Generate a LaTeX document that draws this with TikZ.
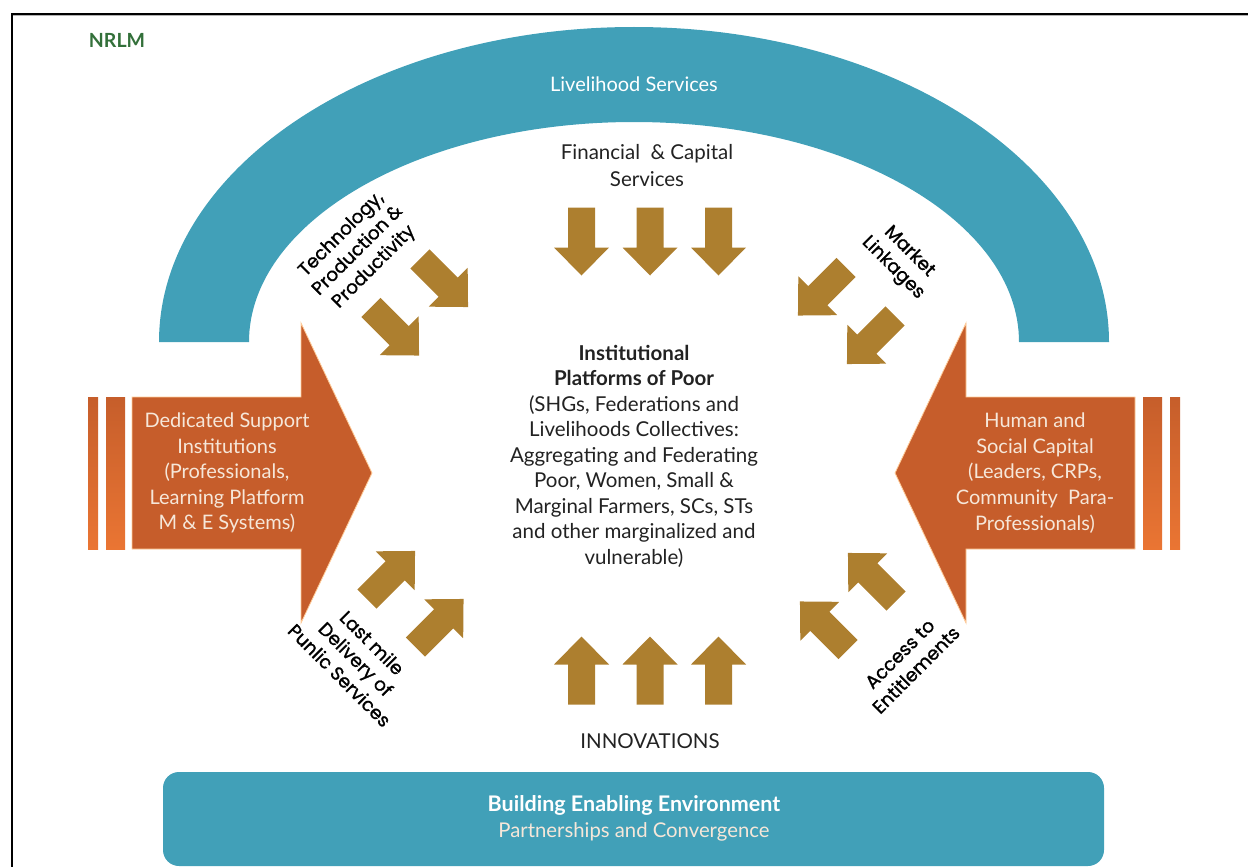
\documentclass[tikz,border=0pt]{standalone}
\usepackage{fontspec}
\setmainfont{Lato}
\newfontfamily\labfont{Poppins}[FakeBold=1.2]
\definecolor{teal}{HTML}{41A0B8}
\definecolor{orng}{HTML}{C65D2B}
\definecolor{gold}{HTML}{AD7F2F}
\definecolor{stripetop}{HTML}{C65E2B}
\definecolor{stripebot}{HTML}{EA7533}
\definecolor{cream}{HTML}{F6E7D9}
\definecolor{nrlmgreen}{HTML}{33703A}
\definecolor{txt}{HTML}{222222}
\tikzset{
  garrow/.pic={\fill[gold] (-34,-13.5) -- (6,-13.5) -- (6,-27.5) -- (34,0) -- (6,27.5) -- (6,13.5) -- (-34,13.5) -- cycle;},
  stripe/.style={top color=stripetop, bottom color=stripebot, draw=none},
  bigarrow/.style={fill=orng, draw=orange!40!white, line width=0.8pt},
  ortext/.style={text=cream, align=center, font=\fontsize{20}{25.6}\selectfont},
  lab/.style={text=black, align=center, font=\labfont\fontsize{18.5}{23}\selectfont},
  plain/.style={text=txt, align=center, font=\fontsize{20.5}{26}\selectfont},
}
\begin{document}
\begin{tikzpicture}[x=1pt,y=-1pt]
\useasboundingbox (0,0) rectangle (1248,867);
% frame
\draw[gray!60, line width=1pt] (13,15.8) -- (1248,15.8);
\draw[black, line width=1.5pt] (12,867) -- (12,14) -- (1248,14);
% arch
\fill[teal] (159,342) arc[start angle=180, end angle=360, x radius=475, y radius=315]
  -- (1019,342) arc[start angle=0, end angle=-180, x radius=385, y radius=220] -- cycle;
\node[text=white, font=\fontsize{20}{22}\selectfont] (live) at (634,84) {Livelihood Services};
% bottom box
\fill[teal, rounded corners=16pt] (163,772) rectangle (1104,866);
\node[text=white, font=\bfseries\fontsize{21.5}{24}\selectfont] (bee) at (634,805) {Building Enabling Environment};
\node[text=cream, font=\fontsize{20.3}{22}\selectfont] (pc) at (634,832) {Partnerships and Convergence};
% left orange arrow
\fill[stripe] (88,397) rectangle (98,549);
\fill[stripe] (106,397) rectangle (125,549);
\path[bigarrow] (132,397) -- (301,397) -- (301,323) -- (372,473) -- (301,623) -- (301,549) -- (132,549) -- cycle;
\node[ortext] (dsi) at (227,473) {Dedicated Support\\Institutions\\(Professionals,\\Learning Platform\\M \& E Systems)};
% right orange arrow
\fill[stripe] (1143,397) rectangle (1162,549);
\fill[stripe] (1170,397) rectangle (1180,549);
\path[bigarrow] (1135,397) -- (966,397) -- (966,323) -- (895,473) -- (966,623) -- (966,549) -- (1135,549) -- cycle;
\node[ortext] (hsc) at (1035,473) {Human and\\Social Capital\\(Leaders, CRPs,\\Community~ Para-\\Professionals)};
% gold arrows
\pic[rotate=-90] at (581.5,241.5) {garrow};
\pic[rotate=-90] at (650,241.5) {garrow};
\pic[rotate=-90] at (718.5,241.5) {garrow};
\pic[rotate=90] at (581.5,670.5) {garrow};
\pic[rotate=90] at (650,670.5) {garrow};
\pic[rotate=90] at (718.5,670.5) {garrow};
\pic[rotate=-45] at (444,283) {garrow};
\pic[rotate=-45] at (395,331.5) {garrow};
\pic[rotate=-135] at (822,291.5) {garrow};
\pic[rotate=-135] at (871,340) {garrow};
\pic[rotate=45] at (391,575) {garrow};
\pic[rotate=45] at (439.5,623) {garrow};
\pic[rotate=135] at (872,577) {garrow};
\pic[rotate=135] at (824,625.5) {garrow};
% texts
\node[text=nrlmgreen, font=\bfseries\fontsize{19.5}{22}\selectfont] (nrlm) at (117,40) {NRLM};
\node[plain, font=\fontsize{20.5}{27}\selectfont] (fin) at (647,166) {Financial~ \& Capital\\Services};
\node[plain] (inn) at (650,741) {INNOVATIONS};
\node[plain, font=\fontsize{20.5}{25.5}\selectfont] (inst) at (634,456) {\textbf{Institutional}\\\textbf{Platforms of Poor}\\(SHGs, Federations and\\Livelihoods Collectives:\\Aggregating and Federating\\Poor, Women, Small \&\\Marginal Farmers, SCs, STs\\and other marginalized and\\vulnerable)};
\node[lab, rotate=45] (tech) at (358,251) {Technology,\\Production \&\\Productivity};
\node[lab, rotate=-45] (mkt) at (901,260) {Market\\Linkages};
\node[lab, rotate=-45] (last) at (356,659) {Last mile\\Delivery of\\Punlic Services};
\node[lab, rotate=45] (acc) at (908,662) {Access to\\Entitlements};
\end{tikzpicture}
\end{document}
